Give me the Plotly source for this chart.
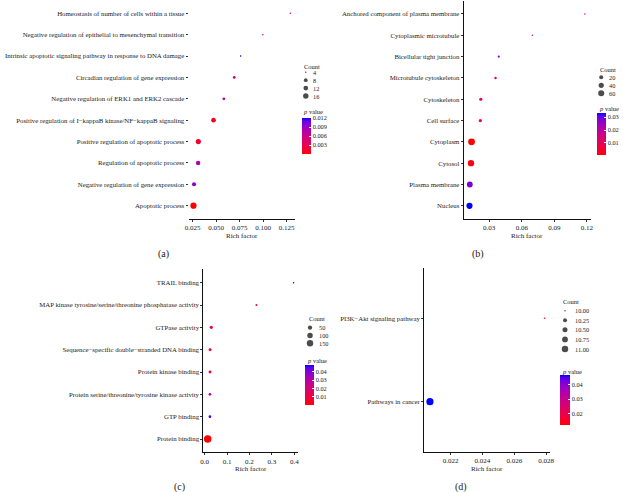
import numpy as np
import plotly.graph_objects as go

W, H = 623, 492
FONT = "Liberation Serif"

# ---------------- Panel (a) ----------------
cats_a = ["Apoptotic process",
          "Negative regulation of gene expression",
          "Regulation of apoptotic process",
          "Positive regulation of apoptotic process",
          "Positive regulation of I\u2212kappaB kinase/NF\u2212kappaB signaling",
          "Negative regulation of ERK1 and ERK2 cascade",
          "Circadian regulation of gene expression",
          "Intrinsic apoptotic signaling pathway in response to DNA damage",
          "Negative regulation of epithelial to mesenchymal transition",
          "Homeostasis of number of cells within a tissue"]
rich_a = [0.0258, 0.0264, 0.0308, 0.0310, 0.0472, 0.0582, 0.0693, 0.0761, 0.0998, 0.1291]
count_a = [17, 8, 9, 12, 10, 5, 5, 4, 4, 4]
p_a = [0.0001, 0.0095, 0.0080, 0.0015, 0.0012, 0.0075, 0.0045, 0.0121, 0.0035, 0.0035]
xticks_a = [0.025, 0.050, 0.075, 0.100, 0.125]
xticklabels_a = ["0.025", "0.050", "0.075", "0.100", "0.125"]
cbreaks_a = [4, 8, 12, 16]
clabels_a = ["4", "8", "12", "16"]
pticks_a = [0.003, 0.006, 0.009, 0.012]
plabels_a = ["0.003", "0.006", "0.009", "0.012"]

# ---------------- Panel (b) ----------------
cats_b = ["Nucleus", "Plasma membrane", "Cytosol", "Cytoplasm", "Cell surface",
          "Cytoskeleton", "Microtubule cytoskeleton", "Bicellular tight junction",
          "Cytoplasmic microtubule", "Anchored component of plasma membrane"]
rich_b = [0.0118, 0.0121, 0.0132, 0.0137, 0.0218, 0.0222, 0.0358, 0.0388, 0.0697, 0.1182]
count_b = [48, 42, 52, 62, 8, 8, 4, 3, 2, 2]
p_b = [0.0330, 0.0280, 0.0015, 0.0003, 0.0080, 0.0090, 0.0070, 0.0280, 0.0110, 0.0080]
xticks_b = [0.03, 0.06, 0.09, 0.12]
xticklabels_b = ["0.03", "0.06", "0.09", "0.12"]
cbreaks_b = [20, 40, 60]
clabels_b = ["20", "40", "60"]
pticks_b = [0.01, 0.02, 0.03]
plabels_b = ["0.01", "0.02", "0.03"]

# ---------------- Panel (c) ----------------
cats_c = ["Protein binding", "GTP binding",
          "Protein serine/threonine/tyrosine kinase activity",
          "Protein kinase binding",
          "Sequence\u2212specific double\u2212stranded DNA binding",
          "GTPase activity",
          "MAP kinase tyrosine/serine/threonine phosphatase activity",
          "TRAIL binding"]
rich_c = [0.0135, 0.0235, 0.0235, 0.0238, 0.0240, 0.0295, 0.2310, 0.3970]
count_c = [170, 9, 9, 11, 12, 15, 3, 2]
p_c = [0.0002, 0.0460, 0.0300, 0.0090, 0.0080, 0.0100, 0.0080, 0.0480]
xticks_c = [0.0, 0.1, 0.2, 0.3, 0.4]
xticklabels_c = ["0.0", "0.1", "0.2", "0.3", "0.4"]
cbreaks_c = [50, 100, 150]
clabels_c = ["50", "100", "150"]
pticks_c = [0.01, 0.02, 0.03, 0.04]
plabels_c = ["0.01", "0.02", "0.03", "0.04"]

# ---------------- Panel (d) ----------------
cats_d = ["Pathways in cancer", "PI3K\u2212Akt signaling pathway"]
rich_d = [0.0207, 0.0279]
count_d = [11, 10]
p_d = [0.0470, 0.0118]
xticks_d = [0.022, 0.024, 0.026, 0.028]
xticklabels_d = ["0.022", "0.024", "0.026", "0.028"]
cbreaks_d = [10.00, 10.25, 10.50, 10.75, 11.00]
clabels_d = ["10.00", "10.25", "10.50", "10.75", "11.00"]
pticks_d = [0.02, 0.03, 0.04]
plabels_d = ["0.02", "0.03", "0.04"]


# ---------- colour scale: red -> blue interpolated in CIELab (like ggplot) ----------
def srgb_to_lab(rgb):
    c = [v / 255 for v in rgb]
    c = [((v + 0.055) / 1.055) ** 2.4 if v > 0.04045 else v / 12.92 for v in c]
    X = 0.4124 * c[0] + 0.3576 * c[1] + 0.1805 * c[2]
    Y = 0.2126 * c[0] + 0.7152 * c[1] + 0.0722 * c[2]
    Z = 0.0193 * c[0] + 0.1192 * c[1] + 0.9505 * c[2]
    def f(t):
        return t ** (1 / 3) if t > 216 / 24389 else (24389 / 27 * t + 16) / 116
    fx_, fy_, fz_ = f(X / 0.95047), f(Y / 1.0), f(Z / 1.08883)
    return (116 * fy_ - 16, 500 * (fx_ - fy_), 200 * (fy_ - fz_))


def lab_to_srgb(lab):
    L, a, b = lab
    fy_ = (L + 16) / 116
    fx_ = fy_ + a / 500
    fz_ = fy_ - b / 200
    def finv(t):
        return t ** 3 if t ** 3 > 216 / 24389 else (116 * t - 16) / (24389 / 27)
    X, Y, Z = 0.95047 * finv(fx_), finv(fy_), 1.08883 * finv(fz_)
    r = 3.2406 * X - 1.5372 * Y - 0.4986 * Z
    g = -0.9689 * X + 1.8758 * Y + 0.0415 * Z
    bb = 0.0557 * X - 0.2040 * Y + 1.0570 * Z
    def comp(v):
        v = max(0.0, min(1.0, v))
        v = 1.055 * v ** (1 / 2.4) - 0.055 if v > 0.0031308 else 12.92 * v
        return int(round(max(0.0, min(1.0, v)) * 255))
    return "rgb(%d,%d,%d)" % (comp(r), comp(g), comp(bb))


lab_lo = srgb_to_lab((255, 0, 0))
lab_hi = srgb_to_lab((0, 0, 255))
colorscale = []
for t in np.linspace(0, 1, 21):
    lab = tuple(lab_lo[k] + (lab_hi[k] - lab_lo[k]) * t for k in range(3))
    colorscale.append([float(t), lab_to_srgb(lab)])


def fx(p):
    return p / W


def fy(p):
    return 1 - p / H


def area_sizes(vals, lo, hi, dmin, dmax):
    out = []
    for v in vals:
        r = (v - lo) / (hi - lo) if hi > lo else 1.0
        r = max(0.0, min(1.0, r))
        out.append(dmin + np.sqrt(r) * (dmax - dmin))
    return out


def expanded(vals, m=0.05):
    lo, hi = min(vals), max(vals)
    w = hi - lo
    return [lo - m * w, hi + m * w]


panels = [
    dict(cats=cats_a, rich=rich_a, count=count_a, p=p_a, xt=xticks_a, xtl=xticklabels_a,
         cb=cbreaks_a, cl=clabels_a, pt=pticks_a, pl=plabels_a,
         xd=(187, 295), yd=(0.5, 218.5), yline=False, dmax=6.2,
         leg=dict(title=(301.7, 66), dotx=305.7, textx=311, ys=(72.3, 96)),
         cbar=dict(title=(301, 111.8), x=301.7, y0=117.7, y1=154, th=9.3),
         label=("(a)", 161.7, 254.3), rf=236),
    dict(cats=cats_b, rich=rich_b, count=count_b, p=p_b, xt=xticks_b, xtl=xticklabels_b,
         cb=cbreaks_b, cl=clabels_b, pt=pticks_b, pl=plabels_b,
         xd=(465.7, 594.3), yd=(1.2, 218.6), yline=True, dmax=6.8,
         leg=dict(title=(601.7, 69), dotx=605, textx=611, ys=(77.3, 93.3)),
         cbar=dict(title=(600.7, 108.3), x=601, y0=113.3, y1=155, th=9),
         label=("(b)", 480, 254.3), rf=236),
    dict(cats=cats_c, rich=rich_c, count=count_c, p=p_c, xt=xticks_c, xtl=xticklabels_c,
         cb=cbreaks_c, cl=clabels_c, pt=pticks_c, pl=plabels_c,
         xd=(202, 297.7), yd=(269.3, 452.4), yline=True, dmax=7.5,
         leg=dict(title=(306.7, 318.3), dotx=310, textx=316.7, ys=(327.7, 343.3)),
         cbar=dict(title=(305, 360), x=305, y0=365, y1=405, th=9),
         label=("(c)", 178, 486.7), rf=468.7),
    dict(cats=cats_d, rich=rich_d, count=count_d, p=p_d, xt=xticks_d, xtl=xticklabels_d,
         cb=cbreaks_d, cl=clabels_d, pt=pticks_d, pl=plabels_d,
         xd=(425.7, 553.3), yd=(268.3, 451.7), yline=True, dmax=7.2,
         leg=dict(title=(564.3, 301.7), dotx=568.3, textx=576, ys=(310.7, 349)),
         cbar=dict(title=(563.3, 371), x=563.3, y0=375, y1=425, th=10),
         label=("(d)", 463.3, 486.7), rf=468.7),
]

fig = go.Figure()
layout = dict(width=W, height=H, margin=dict(l=0, r=0, t=0, b=0),
              paper_bgcolor="white", plot_bgcolor="white", showlegend=False,
              font=dict(family=FONT, color="#222"))
annotations = []
TXT = "#1a1a1a"

for i, P in enumerate(panels):
    k = i + 1
    sx = "" if k == 1 else str(k)
    lk = str(k + 4)
    n = len(P["cats"])
    lo, hi = min(P["count"]), max(P["count"])
    sizes = area_sizes(P["count"], lo, hi, 1.5, P["dmax"])
    cax = "coloraxis" + sx
    fig.add_trace(go.Scatter(
        x=P["rich"], y=P["cats"], mode="markers",
        marker=dict(size=sizes, color=P["p"], coloraxis=cax, line=dict(width=0), opacity=1),
        xaxis="x" + sx, yaxis="y" + sx, showlegend=False, cliponaxis=False))

    layout["xaxis" + sx] = dict(
        domain=[fx(P["xd"][0]), fx(P["xd"][1])], anchor="y" + sx,
        range=expanded(P["rich"]), tickvals=P["xt"], ticktext=P["xtl"],
        showline=True, linecolor="#111", linewidth=1, ticks="outside", ticklen=2,
        tickcolor="#333", tickwidth=0.8, showgrid=False, zeroline=False,
        tickfont=dict(size=7, family=FONT, color=TXT), fixedrange=True)
    layout["yaxis" + sx] = dict(
        domain=[fy(P["yd"][1]), fy(P["yd"][0])], anchor="x" + sx,
        type="category", categoryorder="array", categoryarray=P["cats"],
        range=[-0.6, n - 0.4], showline=P["yline"], linecolor="#111", linewidth=1,
        ticks="outside", ticklen=2, tickcolor="#333", tickwidth=0.8,
        showgrid=False, zeroline=False,
        tickfont=dict(size=6.8, family=FONT, color=TXT), fixedrange=True)

    # colour bar
    cb = P["cbar"]
    layout[cax] = dict(
        colorscale=colorscale, cmin=min(P["p"]), cmax=max(P["p"]),
        colorbar=dict(x=fx(cb["x"]), xanchor="left", xpad=0,
                      y=fy(cb["y0"]), yanchor="top", ypad=0,
                      len=cb["y1"] - cb["y0"], lenmode="pixels",
                      thickness=cb["th"], thicknessmode="pixels", outlinewidth=0,
                      tickvals=P["pt"], ticktext=P["pl"], ticks="inside", ticklen=2,
                      tickcolor="white", tickwidth=0.8,
                      tickfont=dict(size=6.3, family=FONT, color=TXT)))
    annotations.append(dict(text="<i>p</i> value", x=fx(cb["title"][0]), y=fy(cb["title"][1]),
                            xref="paper", yref="paper", xanchor="left", yanchor="middle",
                            showarrow=False, font=dict(size=6.5, family=FONT, color=TXT)))

    # size legend in a hidden axis pair
    L = P["leg"]
    m = len(P["cb"])
    sp = (L["ys"][1] - L["ys"][0]) / (m - 1)
    layout["xaxis" + lk] = dict(domain=[fx(L["dotx"]), fx(L["textx"])], range=[0, 1],
                                anchor="y" + lk, visible=False, fixedrange=True)
    layout["yaxis" + lk] = dict(domain=[fy(L["ys"][1] + sp / 2), fy(L["ys"][0] - sp / 2)],
                                range=[m - 0.5, -0.5], anchor="x" + lk, visible=False,
                                fixedrange=True)
    fig.add_trace(go.Scatter(
        x=[0] * m, y=list(range(m)), mode="markers",
        marker=dict(size=area_sizes(P["cb"], lo, hi, 1.5, P["dmax"] * 0.9), color="black",
                    line=dict(width=0)),
        xaxis="x" + lk, yaxis="y" + lk, showlegend=False, cliponaxis=False))
    for j, lab in enumerate(P["cl"]):
        annotations.append(dict(text=lab, x=1, y=j, xref="x" + lk, yref="y" + lk,
                                xanchor="left", yanchor="middle", showarrow=False,
                                font=dict(size=6.3, family=FONT, color=TXT)))
    annotations.append(dict(text="Count", x=fx(L["title"][0]), y=fy(L["title"][1]),
                            xref="paper", yref="paper", xanchor="left", yanchor="middle",
                            showarrow=False, font=dict(size=6.5, family=FONT, color=TXT)))

    # axis title and panel label
    annotations.append(dict(text="Rich factor", x=fx((P["xd"][0] + P["xd"][1]) / 2),
                            y=fy(P["rf"]), xref="paper", yref="paper",
                            xanchor="center", yanchor="middle", showarrow=False,
                            font=dict(size=7, family=FONT, color=TXT)))
    lab, lx, ly = P["label"]
    annotations.append(dict(text=lab, x=fx(lx), y=fy(ly), xref="paper", yref="paper",
                            xanchor="center", yanchor="middle", showarrow=False,
                            font=dict(size=10, family=FONT, color=TXT)))

layout["annotations"] = annotations
fig.update_layout(**layout)
fig.write_html("out.html")
